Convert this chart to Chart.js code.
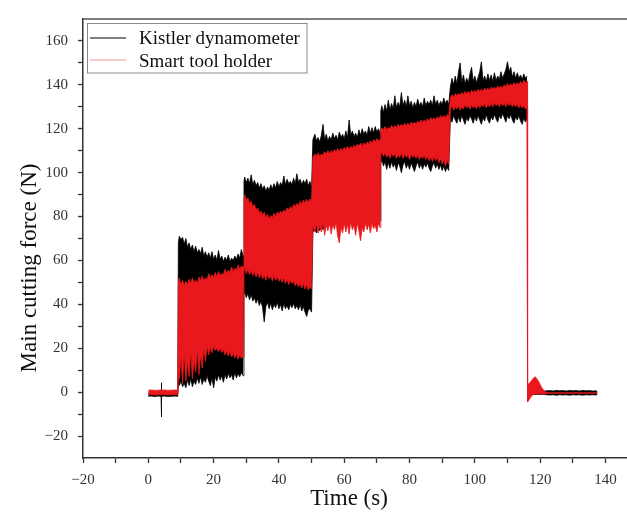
<!DOCTYPE html>
<html>
<head>
<meta charset="utf-8">
<script src="https://cdn.jsdelivr.net/npm/chart.js@4.4.0/dist/chart.umd.min.js"></script>
<style>
  html, body { margin: 0; padding: 0; background: #fff; }
  #wrap { width: 627px; height: 514px; position: relative; overflow: hidden; }
</style>
</head>
<body>
<div id="wrap"><canvas id="c"></canvas></div>
<script>
// ---- text ----
const kistlerLabel = 'Kistler dynamometer';
const holderLabel = 'Smart tool holder';
const xTitle = 'Time (s)';
const yTitle = 'Main cutting force (N)';

// ---- tick values ----
const xTicks = [-20, -10, 0, 10, 20, 30, 40, 50, 60, 70, 80, 90, 100, 110, 120, 130, 140];
const yTicks = [-20, -10, 0, 10, 20, 30, 40, 50, 60, 70, 80, 90, 100, 110, 120, 130, 140, 150, 160];

// ---- sample times (s): idle, five cutting steps, after cutting ----
const time = [
  0, 1, 2, 3, 3.9, 4, 4.1, 5, 6, 7, 8, 9,
  9.2, 9.5, 10, 10.5, 11, 11.5, 12, 12.5, 13, 13.5, 14, 14.5, 15, 15.5, 16, 16.5, 17, 17.5, 18, 18.5, 19,
  19.5, 20, 20.5, 21, 21.5, 22, 22.5, 23, 23.5, 24, 24.5, 25, 25.5, 26, 26.5, 27, 27.5, 28, 28.5, 29,
  29.3, 29.5, 30, 30.5, 31, 31.5, 32, 32.5, 33, 33.5, 34, 34.5, 35, 35.5, 36, 36.5, 37, 37.5, 38, 38.5, 39,
  39.5, 40, 40.5, 41, 41.5, 42, 42.5, 43, 43.5, 44, 44.5, 45, 45.5, 46, 46.5, 47, 47.5, 48, 48.5, 49, 49.5, 50,
  50.4, 51, 51.5, 52, 52.5, 53, 53.5, 54, 54.5, 55, 55.5, 56, 56.5, 57, 57.5, 58, 58.5, 59, 59.5, 60, 60.5,
  61, 61.5, 62, 62.5, 63, 63.5, 64, 64.5, 65, 65.5, 66, 66.5, 67, 67.5, 68, 68.5, 69, 69.5, 70, 70.5, 71,
  71.2, 71.5, 72, 72.5, 73, 73.5, 74, 74.5, 75, 75.5, 76, 76.5, 77, 77.5, 78, 78.5, 79, 79.5, 80, 80.5, 81,
  81.5, 82, 82.5, 83, 83.5, 84, 84.5, 85, 85.5, 86, 86.5, 87, 87.5, 88, 88.5, 89, 89.5, 90, 90.5, 91, 91.5, 92,
  92.5, 93, 93.5, 94, 94.5, 95, 95.5, 96, 96.5, 97, 97.5, 98, 98.5, 99, 99.5, 100, 100.5, 101, 101.5, 102,
  102.5, 103, 103.5, 104, 104.5, 105, 105.5, 106, 106.5, 107, 107.5, 108, 108.5, 109, 109.5, 110, 110.5, 111, 111.5, 112,
  112.5, 113, 113.5, 114, 114.5, 115, 115.5, 116,
  116.1, 116.2, 116.6, 117, 117.5, 118, 118.5, 119, 119.5, 120, 120.5, 121, 121.5, 122,
  123, 124, 125, 126, 127, 128, 129, 130, 131, 132, 133, 134, 135, 136, 137, 137.5
];

// ---- Kistler dynamometer: upper and lower envelope of the signal (N) ----
const kistlerMax = [
  -0.5, -0.4, -0.6, -0.5, -0.5, 4.3, -0.5, -0.4, -0.6, -0.5, -0.4, -0.5,
  68, 71, 69.5, 70.5, 67.5, 70, 66, 68, 65, 67, 64, 66.5, 63.5, 65, 63, 66, 62, 64, 61.5, 63.5, 61,
  64, 60.5, 62.5, 60, 64.5, 60.5, 62, 59.5, 61.5, 60, 62.5, 59.5, 61, 60, 62, 60.5, 63, 61, 65, 62,
  96, 98, 95.5, 97.5, 95, 99, 94.5, 96.5, 94, 95.5, 93, 95, 92.5, 94, 91.5, 93.5, 92, 94.5, 92.5, 95, 93,
  96, 93.5, 95.5, 94, 98.5, 94.5, 97, 95, 96, 94.5, 97.5, 95, 99.5, 95.5, 97, 94.5, 96.5, 95, 97, 94, 96, 93,
  115, 117.5, 114.5, 116, 114, 117, 122, 115, 117.5, 114.5, 116.5, 115, 118, 115.5, 117, 115, 118.5, 116, 117.5, 115.5, 119,
  116, 124, 117, 119, 116.5, 118, 116, 119.5, 117, 120, 117.5, 119, 117, 121, 118, 120.5, 118, 121, 118.5, 120, 118,
  128, 130.5, 127.5, 131, 128, 133, 128.5, 131.5, 129, 135, 129.5, 132, 130, 136.5, 130.5, 133, 130, 135, 130.5, 132.5, 129.5,
  132, 130, 133.5, 130.5, 132, 130, 134, 130.5, 132.5, 131, 133, 130.5, 135, 131, 133, 130.5, 132.5, 131, 134, 131.5, 133, 131,
  139, 143, 140, 144, 140.5, 146, 150, 141, 144.5, 140.5, 143, 141, 145, 148, 141.5, 144, 141, 143.5, 146, 150.5,
  142, 144, 141.5, 145, 142, 144.5, 141.5, 145.5, 142, 144, 142.5, 146, 143, 145, 147, 150.5, 146, 148, 143.5, 146,
  143, 145.5, 143, 144.5, 142.5, 145, 143, 144,
  null, 0.5, 0.4, 0.5, 0.4, 0.5, 0.4, 0.5, 0.4, 0.5, 0.4, 0.5, 0.5, 0.6,
  0.7, 0.5, 0.8, 0.6, 0.7, 0.5, 0.8, 0.6, 0.7, 0.5, 0.8, 0.6, 0.7, 0.5, 0.6, 0.4
];
const kistlerMin = [
  -1.9, -1.8, -2, -1.8, -1.9, -11.3, -1.9, -1.8, -2, -1.9, -1.8, -1.9,
  4, 3, 5, 2.5, 4, 2, 5.5, 3, 6, 2.5, 5, 3.5, 6.5, 4, 7, 3.5, 6, 4.5, 7.5, 5, 3,
  6.5, 2, 7, 5, 8, 5.5, 7.5, 4.5, 8, 6, 8.5, 6.5, 8, 5.5, 9, 6.5, 8.5, 7, 9, 7.5,
  44, 46, 43, 45, 42, 44.5, 41.5, 43, 40.5, 42.5, 39.5, 41.5, 38.5, 32, 39, 41, 38, 40.5, 37.5, 40, 38.5,
  41, 38, 40, 37, 40.5, 38, 39.5, 37.5, 40, 38.5, 40.5, 38, 39.5, 37.5, 40, 37, 39, 36.5, 34.5, 37.5, 38, 36.5,
  73, 74, 72.5, 75, 73.5, 76, 74, 77, 75.5, 78, 76, 78, 76.5, 78.5, 77, 78, 76, 78.5, 77, 79, 77,
  78.5, 76.5, 79, 77.5, 78, 76, 79, 77.5, 78, 77, 78.5, 79, 77.5, 78, 76.5, 79, 77.5, 78.5, 76, 79, 78,
  104, 106, 103, 105, 101.5, 104.5, 102, 105, 102.5, 104, 101, 104.5, 103, 100, 103.5, 105, 102, 104, 101.5, 104.5, 102.5,
  100.5, 103, 105, 102, 104, 101.5, 104, 102.5, 104.5, 102, 100.5, 103, 104.5, 102, 104, 101.5, 103.5, 101, 103, 100.5, 102.5, 101,
  125, 123, 126, 124, 122.5, 125.5, 123, 126, 124, 122, 125, 123.5, 126, 124.5, 122.5, 125.5, 123.5, 126, 124, 122,
  125, 123.5, 126.5, 124, 122.5, 125.5, 124, 126.5, 124.5, 123, 126, 124.5, 127, 125, 123, 126, 124.5, 126.5, 124, 122.5,
  125.5, 124, 126, 123.5, 122, 125, 123, 124.5,
  null, -1, -1.1, -1, -1.1, -1, -1.1, -1, -1.1, -1, -1.1, -1, -1.1, -1.2,
  -1.3, -1.2, -1.4, -1.2, -1.3, -1.2, -1.4, -1.2, -1.3, -1.2, -1.4, -1.2, -1.3, -1.2, -1.3, -1.2
];

// ---- Smart tool holder: upper and lower envelope of the signal (N) ----
const holderMax = [
  0.9, 1, 0.8, 0.9, 1, 0.9, 0.9, 1, 0.8, 0.9, 1, 0.9,
  50, 52, 49, 51, 48.5, 50.5, 49, 51.5, 49.5, 52, 50, 51, 49.5, 52.5, 50.5, 53, 51, 52, 51.5, 54, 52,
  53.5, 52, 54.5, 52.5, 55, 53, 54, 53.5, 56, 54, 55.5, 54.5, 57, 55, 56.5, 55.5, 58, 56, 57.5, 57,
  88, 90, 87.5, 88.5, 86, 87, 84.5, 85.5, 83, 84, 81.5, 82.5, 80.5, 82, 79.5, 81, 79, 80.5, 79.5, 81.5, 80,
  82, 81, 82.5, 81.5, 83, 82, 84, 83, 84.5, 83.5, 85.5, 84.5, 86, 85, 87, 85.5, 87.5, 86, 88, 86.5, 88, 87,
  107, 108.5, 107.5, 109, 107.5, 108.5, 108, 109.5, 108.5, 110, 108.5, 110, 109, 110.5, 109.5, 111, 109.5, 111, 110, 111.5, 110.5,
  112, 110.5, 112, 111, 112.5, 111.5, 113, 112, 113.5, 112, 113.5, 112.5, 114, 113, 114.5, 113.5, 115, 114, 115.5, 114.5, 115,
  119, 120.5, 119.5, 121, 119.5, 120.5, 120, 121.5, 120.5, 121.5, 120.5, 122, 121, 122, 121, 122.5, 121.5, 122.5, 121.5, 123, 122,
  123, 122, 123.5, 122.5, 124, 123, 124, 123, 124.5, 123.5, 125, 124, 125, 124, 125.5, 124.5, 126, 125, 126, 125, 126.5, 125.5,
  134, 135.5, 134.5, 136, 135, 136, 135.5, 136.5, 135.5, 137, 136, 137, 136, 137.5, 136.5, 137.5, 136.5, 138, 137, 138,
  137, 138.5, 137.5, 138.5, 137.5, 139, 138, 139, 138, 139.5, 138.5, 139.5, 138.5, 140, 139, 140.5, 139.5, 140.5, 139.5, 141,
  140, 141, 140, 141.5, 140.5, 142, 141, 141.5,
  141.5, 3, 4, 4.5, 5.5, 6.5, 7, 6, 5, 3.5, 2, 1, 0.3, -0.2,
  -0.3, -0.3, -0.3, -0.3, -0.3, -0.3, -0.3, -0.3, -0.3, -0.3, -0.3, -0.3, -0.3, -0.3, -0.3, -0.3
];
const holderMin = [
  -1.2, -1.1, -1.3, -1.2, -1.1, -1.2, -1.2, -1.1, -1.3, -1.2, -1.1, -1.2,
  8, 6, 16, 4, 18, 5, 14, 7, 19, 6, 15, 9, 20, 8, 17, 11, 20, 14, 21, 17, 20.5,
  18, 21, 19, 20, 18.5, 20, 18, 19.5, 17, 19, 16.5, 18.5, 16, 18, 15.5, 17.5, 15, 17, 15.5, 16,
  55, 57, 54, 56, 53.5, 55.5, 53, 55, 52.5, 54.5, 52, 54, 51.5, 53.5, 51, 53.5, 51.5, 53, 50.5, 53, 51,
  52.5, 50.5, 52, 50, 52, 49.5, 51.5, 49, 51, 49.5, 50.5, 48.5, 50, 48, 49.5, 47.5, 49.5, 47, 49, 46.5, 48, 47,
  76, 73, 77, 72.5, 76, 73, 77.5, 71.5, 76, 73.5, 77, 72, 76.5, 74, 77.5, 71, 68, 75, 72.5, 77, 73,
  76.5, 72, 77.5, 74, 76, 71.5, 77, 73.5, 69, 75, 73, 77, 74, 76.5, 72.5, 77, 74.5, 76, 73, 77, 75,
  108, 109.5, 107.5, 109, 107, 108.5, 106.5, 109, 107.5, 108.5, 106.5, 108, 107, 109, 106.5, 108.5, 107, 108, 106, 108.5, 107,
  108, 106.5, 108, 106, 107.5, 106.5, 108, 106, 107.5, 105.5, 107, 105, 107.5, 105.5, 107, 104.5, 106.5, 104, 106, 103, 105.5, 104,
  129, 130.5, 128.5, 130, 129, 130.5, 128.5, 130, 129, 131, 129.5, 130.5, 129, 131, 129.5, 130.5, 129, 131, 129.5, 131,
  130, 131.5, 129.5, 131, 130, 131.5, 130, 132, 130.5, 131.5, 130, 132, 130.5, 131.5, 130, 132, 130.5, 131.5, 130, 131.5,
  130, 131, 129.5, 131, 129.5, 130.5, 129, 130,
  130, -4.5, -3.5, -2.5, -1.5, -1, -0.8, -0.8, -0.7, -0.8, -0.8, -0.8, -0.8, -0.6,
  -0.5, -0.5, -0.5, -0.5, -0.5, -0.5, -0.5, -0.5, -0.5, -0.5, -0.5, -0.5, -0.5, -0.5, -0.5, -0.5
];

[kistlerMax, kistlerMin, holderMax, holderMin].forEach((a, i) => {
  if (a.length !== time.length) throw new Error('array ' + i + ' length ' + a.length + ' != ' + time.length);
});

const RED = 'rgb(232,24,28)';
const BLACK = '#000';
const SERIF = "'Liberation Serif', 'Times New Roman', serif";
const pts = arr => time.map((t, i) => ({ x: t, y: arr[i] }));

const decor = {
  id: 'decor',
  afterDraw(chart) {
    const { ctx, chartArea: a } = chart;
    ctx.save();
    // top frame line
    ctx.strokeStyle = '#555';
    ctx.lineWidth = 1.5;
    ctx.beginPath();
    ctx.moveTo(a.left, a.top);
    ctx.lineTo(a.right, a.top);
    ctx.stroke();
    // legend box
    const bx = a.left + 4.5, by = a.top + 4.5;
    ctx.fillStyle = '#fff';
    ctx.fillRect(bx, by, 219.5, 49.5);
    ctx.strokeStyle = '#8a8a8a';
    ctx.lineWidth = 1;
    ctx.strokeRect(bx, by, 219.5, 49.5);
    ctx.lineWidth = 1;
    ctx.strokeStyle = BLACK;
    ctx.beginPath(); ctx.moveTo(bx + 2.5, by + 14.5); ctx.lineTo(bx + 38.5, by + 14.5); ctx.stroke();
    ctx.strokeStyle = 'rgba(232,24,28,0.45)';
    ctx.beginPath(); ctx.moveTo(bx + 2.5, by + 36.5); ctx.lineTo(bx + 38.5, by + 36.5); ctx.stroke();
    ctx.fillStyle = '#111';
    ctx.font = '19px ' + SERIF;
    ctx.textAlign = 'left';
    ctx.textBaseline = 'alphabetic';
    ctx.fillText(kistlerLabel, bx + 51.5, by + 20.8);
    ctx.fillText(holderLabel, bx + 51.5, by + 43.2);
    // axis titles
    ctx.font = '23px ' + SERIF;
    ctx.textAlign = 'center';
    ctx.fillText(xTitle, 349, 505);
    ctx.translate(36, 268);
    ctx.rotate(-Math.PI / 2);
    ctx.fillText(yTitle, 0, 0);
    ctx.restore();
  }
};

const tickLabel = v => (v % 20 === 0 ? String(v).replace('-', '\u2212') : '');

new Chart(document.getElementById('c'), {
  type: 'line',
  data: {
    datasets: [
      { label: holderLabel, data: pts(holderMax), fill: '+1', borderColor: RED, backgroundColor: RED, order: 0 },
      { label: holderLabel + ' (min)', data: pts(holderMin), fill: false, borderColor: RED, backgroundColor: RED, order: 0 },
      { label: kistlerLabel, data: pts(kistlerMax), fill: '+1', borderColor: BLACK, backgroundColor: BLACK, order: 1 },
      { label: kistlerLabel + ' (min)', data: pts(kistlerMin), fill: false, borderColor: BLACK, backgroundColor: BLACK, order: 1 }
    ]
  },
  options: {
    responsive: true,
    maintainAspectRatio: false,
    animation: false,
    parsing: false,
    normalized: true,
    spanGaps: false,
    elements: {
      point: { radius: 0, hoverRadius: 0 },
      line: { borderWidth: 0.8, tension: 0 }
    },
    layout: { padding: { left: 0, right: 0, top: 12, bottom: 0 } },
    plugins: { legend: { display: false }, tooltip: { enabled: false } },
    events: [],
    scales: {
      x: {
        type: 'linear',
        min: -20,
        max: 146.6,
        afterBuildTicks: s => { s.ticks = xTicks.map(v => ({ value: v })); },
        afterFit: s => { s.height = 56; },
        grid: { display: true, drawOnChartArea: false, drawTicks: true, tickLength: 5, tickColor: '#333', tickWidth: 1.3 },
        border: { display: true, color: '#333', width: 1.5 },
        ticks: { autoSkip: false, maxRotation: 0, padding: 8, color: '#333', font: { family: SERIF, size: 15 }, callback: tickLabel }
      },
      y: {
        type: 'linear',
        min: -30,
        max: 170,
        afterBuildTicks: s => { s.ticks = yTicks.map(v => ({ value: v })); },
        afterFit: s => { s.width = 83; },
        grid: { display: true, drawOnChartArea: false, drawTicks: true, tickLength: 5, tickColor: '#333', tickWidth: 1.3 },
        border: { display: true, color: '#333', width: 1.5 },
        ticks: { autoSkip: false, padding: 10, color: '#333', font: { family: SERIF, size: 15 }, callback: tickLabel }
      }
    }
  },
  plugins: [decor]
});
</script>
</body>
</html>
